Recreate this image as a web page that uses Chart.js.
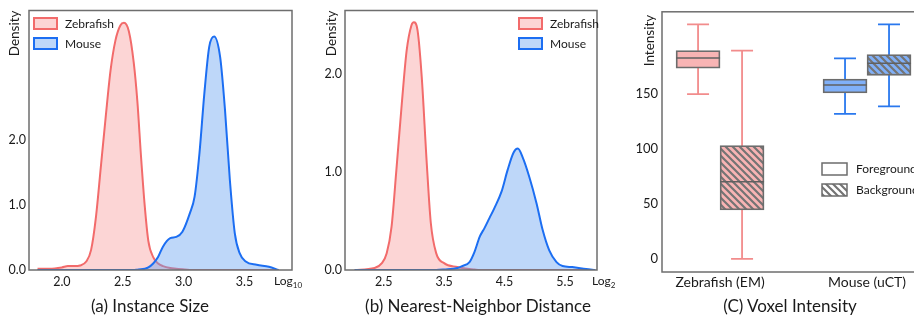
<!DOCTYPE html>
<html lang="en">
<head>
<meta charset="utf-8">
<title>Instance Size / Nearest-Neighbor Distance / Voxel Intensity</title>
<script src="https://cdn.jsdelivr.net/npm/chart.js@4.4.1/dist/chart.umd.min.js"></script>
<style>
    html, body { margin: 0; padding: 0; background: #fff; }
    body { position: relative; width: 914px; height: 316px; overflow: hidden; font-family: Lato, "Open Sans", sans-serif; color: #1a1a1a; }
    canvas { position: absolute; top: 0; }
    #chartA { left: 0; }
    #chartB { left: 300px; }
    #chartC { left: 600px; }
    .caption { position: absolute; top: 296px; font-size: 17px; line-height: 20px; white-space: nowrap; transform: translateX(-50%); }
    .logLabel { position: absolute; top: 274px; font-size: 12px; line-height: 14px; white-space: nowrap; }
    .logLabel span { font-size: 8px; position: relative; top: 3px; }
</style>
</head>
<body>
<canvas id="chartA" width="300" height="300"></canvas>
<canvas id="chartB" width="300" height="300"></canvas>
<canvas id="chartC" width="330" height="300"></canvas>
<div class="logLabel" style="left:274px">Log<span>10</span></div>
<div class="logLabel" style="left:592px">Log<span>2</span></div>
<div class="caption" style="left:150px">(a) Instance Size</div>
<div class="caption" style="left:478px">(b) Nearest-Neighbor Distance</div>
<div class="caption" style="left:790px">(C) Voxel Intensity</div>

<script>
// Datos (a) Instance Size, eje x en log10
const sizeX = [1.80, 1.90, 2.00, 2.05, 2.10, 2.15, 2.20, 2.24, 2.28, 2.32, 2.36, 2.40, 2.44, 2.48, 2.51, 2.55, 2.59, 2.62, 2.65, 2.68, 2.71, 2.75, 2.79, 2.83, 2.89, 2.94, 2.99, 3.05, 3.09, 3.13, 3.17, 3.21, 3.25, 3.30, 3.34, 3.38, 3.42, 3.46, 3.51, 3.60, 3.70, 3.78];
const sizeZebrafish = [0.02, 0.02, 0.04, 0.06, 0.06, 0.07, 0.13, 0.31, 0.82, 1.59, 2.36, 3.08, 3.54, 3.77, 3.81, 3.68, 3.2, 2.6, 1.75, 1.0, 0.45, 0.2, 0.1, 0.06, 0.03, 0.02, 0.01, 0, 0, 0, 0, 0, 0, 0, 0, 0, 0, 0, 0, 0, 0, 0];
const sizeMouse = [0, 0, 0, 0, 0, 0, 0, 0, 0, 0, 0, 0, 0, 0, 0, 0, 0, 0.005, 0.01, 0.02, 0.04, 0.1, 0.2, 0.36, 0.49, 0.51, 0.59, 0.87, 1.13, 1.8, 2.72, 3.44, 3.6, 3.28, 2.46, 1.38, 0.57, 0.26, 0.13, 0.08, 0.05, 0];
const sizeXTicks = [2.0, 2.5, 3.0, 3.5];
const sizeYTicks = [0, 1, 2];

// Datos (b) Nearest-Neighbor Distance, eje x en log2
const nnX = [2.02, 2.35, 2.47, 2.55, 2.63, 2.71, 2.80, 2.88, 2.96, 3.00, 3.06, 3.13, 3.21, 3.28, 3.37, 3.50, 3.72, 3.80, 3.92, 4.00, 4.09, 4.17, 4.25, 4.33, 4.45, 4.55, 4.65, 4.72, 4.80, 4.91, 5.03, 5.13, 5.24, 5.36, 5.46, 5.62, 5.85, 6.00];
const nnZebrafish = [0, 0.02, 0.07, 0.17, 0.44, 1.02, 1.7, 2.24, 2.5, 2.53, 2.45, 1.97, 1.12, 0.48, 0.17, 0.07, 0.03, 0.02, 0.01, 0.005, 0, 0, 0, 0, 0, 0, 0, 0, 0, 0, 0, 0, 0, 0, 0, 0, 0, 0];
const nnMouse = [0, 0, 0, 0, 0, 0, 0, 0, 0, 0, 0, 0, 0, 0, 0, 0.005, 0.02, 0.04, 0.08, 0.18, 0.34, 0.43, 0.53, 0.63, 0.8, 1.02, 1.2, 1.24, 1.15, 0.95, 0.68, 0.41, 0.2, 0.08, 0.04, 0.03, 0.01, 0];
const nnXTicks = [2.5, 3.5, 4.5, 5.5];
const nnYTicks = [0, 1, 2];

// Datos (C) Voxel Intensity (cajas)
const voxelGroups = ['Zebrafish (EM)', 'Mouse (uCT)'];
const fgMin = [149.8, 131.8];
const fgQ1 = [173.4, 150.9];
const fgMedian = [182.7, 158.1];
const fgQ3 = [189.4, 163.5];
const fgMax = [213.3, 182.4];
const bgMin = [0, 138.6];
const bgQ1 = [44.5, 166.9];
const bgMedian = [70.2, 178];
const bgQ3 = [103, 185.8];
const bgMax = [189.4, 213.3];
const intensityTicks = [0, 50, 100, 150];

// Estilos
const FONT = 'Lato, "Open Sans", sans-serif';
const TEXT_COLOR = '#1a1a1a';
const FRAME_COLOR = '#6e6e6e';
const COLORS = {
    zebLine: '#f26b6b',
    zebFill: 'rgba(247, 150, 150, 0.4)',
    mouLine: '#1c6ef2',
    mouFill: 'rgba(100, 160, 240, 0.42)',
    pinkBox: '#f8b4b4',
    blueBox: '#80b0f8',
    pinkWhisker: '#f28c8c',
    blueWhisker: '#2a78ee',
    boxBorder: '#6c6c6c',
    median: '#606060',
    hatch: '#747474'
};

Chart.defaults.font.family = FONT;
Chart.defaults.color = TEXT_COLOR;
Chart.defaults.animation = false;
Chart.defaults.plugins.legend.display = false;
Chart.defaults.plugins.tooltip.enabled = false;

// Marco gris alrededor del área de la gráfica
const framePlugin = {
    id: 'frame',
    afterDraw(chart) {
        const { ctx, chartArea: a } = chart;
        ctx.save();
        ctx.strokeStyle = FRAME_COLOR;
        ctx.lineWidth = 1.5;
        ctx.strokeRect(a.left, a.top, a.right - a.left, a.bottom - a.top);
        ctx.restore();
    }
};

// Título vertical del eje y, arriba a la izquierda
const sideTitlePlugin = {
    id: 'sideTitle',
    afterDraw(chart, args, opts) {
        const ctx = chart.ctx;
        ctx.save();
        ctx.translate(opts.x, chart.chartArea.top + (opts.dy || 0));
        ctx.rotate(-Math.PI / 2);
        ctx.font = `13.5px ${FONT}`;
        ctx.fillStyle = TEXT_COLOR;
        ctx.textAlign = 'right';
        ctx.textBaseline = 'middle';
        ctx.fillText(opts.text, 0, 0);
        ctx.restore();
    }
};

// Leyenda dibujada dentro del área
const boxLegendPlugin = {
    id: 'boxLegend',
    afterDraw(chart, args, opts) {
        const ctx = chart.ctx;
        ctx.save();
        opts.items.forEach((item, i) => {
            const top = opts.y + i * opts.gap;
            ctx.fillStyle = item.fill;
            ctx.fillRect(opts.x, top, opts.w, opts.h);
            ctx.strokeStyle = item.line;
            ctx.lineWidth = item.lineWidth || 2;
            ctx.strokeRect(opts.x, top, opts.w, opts.h);
            ctx.fillStyle = TEXT_COLOR;
            ctx.font = `${opts.fontSize}px ${FONT}`;
            ctx.textAlign = 'left';
            ctx.textBaseline = 'middle';
            ctx.fillText(item.label, opts.x + opts.w + opts.textGap, top + opts.h / 2 + 0.5);
        });
        ctx.restore();
    }
};

// Gráfica de densidad (a) y (b)
function densityChart(id, xs, zebrafish, mouse, cfg) {
    const toPoints = ys => xs.map((x, i) => ({ x: x, y: ys[i] }));
    const lineStyle = {
        borderWidth: 2,
        pointRadius: 0,
        fill: 'origin',
        cubicInterpolationMode: 'monotone'
    };
    return new Chart(document.getElementById(id), {
        type: 'line',
        data: {
            datasets: [
                { label: 'Zebrafish', data: toPoints(zebrafish), borderColor: COLORS.zebLine, backgroundColor: COLORS.zebFill, order: 2, ...lineStyle },
                { label: 'Mouse', data: toPoints(mouse), borderColor: COLORS.mouLine, backgroundColor: COLORS.mouFill, order: 1, ...lineStyle }
            ]
        },
        options: {
            responsive: false,
            layout: { padding: { top: 10, right: cfg.rightPad, left: 0, bottom: 0 } },
            scales: {
                x: {
                    type: 'linear',
                    min: cfg.xMin,
                    max: cfg.xMax,
                    grid: { display: false, drawTicks: false },
                    border: { display: false },
                    afterFit: s => { s.height = 30; },
                    afterBuildTicks: s => { s.ticks = cfg.xTicks.map(v => ({ value: v })); },
                    ticks: { callback: v => v.toFixed(1), font: { size: 12.5 }, padding: 4, autoSkip: false, maxRotation: 0 }
                },
                y: {
                    type: 'linear',
                    min: 0,
                    max: cfg.yMax,
                    grid: { display: false, drawTicks: false },
                    border: { display: false },
                    afterFit: s => { s.width = cfg.yWidth; },
                    afterBuildTicks: s => { s.ticks = cfg.yTicks.map(v => ({ value: v })); },
                    ticks: { callback: v => v.toFixed(1), font: { size: 12.5 }, padding: 3 }
                }
            },
            plugins: {
                sideTitle: { text: 'Density', x: cfg.titleX },
                boxLegend: {
                    x: cfg.legendX, y: 18, w: 23, h: 11, gap: 20, fontSize: 12, textGap: 8,
                    items: [
                        { label: 'Zebrafish', fill: COLORS.zebFill, line: COLORS.zebLine },
                        { label: 'Mouse', fill: COLORS.mouFill, line: COLORS.mouLine }
                    ]
                }
            }
        },
        plugins: [framePlugin, sideTitlePlugin, boxLegendPlugin]
    });
}

// Patrón rayado para "Background"
function hatch(base) {
    const s = 7;
    const c = document.createElement('canvas');
    c.width = s;
    c.height = s;
    const g = c.getContext('2d');
    g.fillStyle = base;
    g.fillRect(0, 0, s, s);
    g.strokeStyle = COLORS.hatch;
    g.lineWidth = 2.2;
    g.beginPath();
    g.moveTo(-1, -1); g.lineTo(s + 1, s + 1);
    g.moveTo(-1, s - 1); g.lineTo(1, s + 1);
    g.moveTo(s - 1, -1); g.lineTo(s + 1, 1);
    g.stroke();
    return g.createPattern(c, 'repeat');
}

const voxelStats = [
    { min: fgMin, median: fgMedian, max: fgMax },
    { min: bgMin, median: bgMedian, max: bgMax }
];
const whiskerColors = [COLORS.pinkWhisker, COLORS.blueWhisker];

// Bigotes detrás de las cajas y medianas encima
const boxplotPlugin = {
    id: 'boxplot',
    beforeDatasetsDraw(chart) {
        const { ctx, scales: { y } } = chart;
        ctx.save();
        ctx.lineWidth = 1.8;
        voxelStats.forEach((st, d) => {
            chart.getDatasetMeta(d).data.forEach((bar, i) => {
                const yMin = y.getPixelForValue(st.min[i]);
                const yMax = y.getPixelForValue(st.max[i]);
                const half = bar.width / 4;
                ctx.strokeStyle = whiskerColors[i];
                ctx.beginPath();
                ctx.moveTo(bar.x, yMin); ctx.lineTo(bar.x, yMax);
                ctx.moveTo(bar.x - half, yMin); ctx.lineTo(bar.x + half, yMin);
                ctx.moveTo(bar.x - half, yMax); ctx.lineTo(bar.x + half, yMax);
                ctx.stroke();
            });
        });
        ctx.restore();
    },
    afterDatasetsDraw(chart) {
        const { ctx, scales: { y } } = chart;
        ctx.save();
        ctx.lineWidth = 1.5;
        ctx.strokeStyle = COLORS.median;
        voxelStats.forEach((st, d) => {
            chart.getDatasetMeta(d).data.forEach((bar, i) => {
                const yMed = y.getPixelForValue(st.median[i]);
                ctx.beginPath();
                ctx.moveTo(bar.x - bar.width / 2, yMed);
                ctx.lineTo(bar.x + bar.width / 2, yMed);
                ctx.stroke();
            });
        });
        ctx.restore();
    }
};

function voxelChart() {
    const boxStyle = { borderColor: COLORS.boxBorder, borderWidth: 1.8, borderSkipped: false, barThickness: 44 };
    return new Chart(document.getElementById('chartC'), {
        type: 'bar',
        data: {
            datasets: [
                {
                    label: 'Foreground',
                    data: voxelGroups.map((g, i) => ({ x: i, y: [fgQ1[i], fgQ3[i]] })),
                    backgroundColor: [COLORS.pinkBox, COLORS.blueBox],
                    ...boxStyle
                },
                {
                    label: 'Background',
                    data: voxelGroups.map((g, i) => ({ x: i, y: [bgQ1[i], bgQ3[i]] })),
                    backgroundColor: [hatch(COLORS.pinkBox), hatch(COLORS.blueBox)],
                    ...boxStyle
                }
            ]
        },
        options: {
            responsive: false,
            layout: { padding: { top: 9, right: 8, left: 0, bottom: 0 } },
            scales: {
                x: {
                    type: 'linear',
                    min: -0.395,
                    max: 1.374,
                    offset: false,
                    grid: { display: false, drawTicks: false },
                    border: { display: false },
                    afterFit: s => { s.height = 28; },
                    afterBuildTicks: s => { s.ticks = voxelGroups.map((g, i) => ({ value: i })); },
                    ticks: { callback: v => voxelGroups[v], font: { size: 14 }, padding: 2, autoSkip: false, maxRotation: 0 }
                },
                y: {
                    type: 'linear',
                    min: -12,
                    max: 224.7,
                    grid: { display: false, drawTicks: false },
                    border: { display: false },
                    afterFit: s => { s.width = 62; },
                    afterBuildTicks: s => { s.ticks = intensityTicks.map(v => ({ value: v })); },
                    ticks: { font: { size: 13 }, padding: 4 }
                }
            },
            plugins: {
                sideTitle: { text: 'Intensity', x: 50, dy: 3 },
                boxLegend: {
                    x: 222, y: 163, w: 25, h: 12, gap: 21, fontSize: 12, textGap: 9,
                    items: [
                        { label: 'Foreground', fill: '#fff', line: COLORS.boxBorder, lineWidth: 1.5 },
                        { label: 'Background', fill: hatch('#fff'), line: COLORS.boxBorder, lineWidth: 1.5 }
                    ]
                }
            }
        },
        plugins: [boxplotPlugin, framePlugin, sideTitlePlugin, boxLegendPlugin]
    });
}

densityChart('chartA', sizeX, sizeZebrafish, sizeMouse, {
    xMin: 1.73, xMax: 3.89, yMax: 4.0, xTicks: sizeXTicks, yTicks: sizeYTicks,
    yWidth: 29, rightPad: 8, titleX: 15, legendX: 34
});
densityChart('chartB', nnX, nnZebrafish, nnMouse, {
    xMin: 1.86, xMax: 6.03, yMax: 2.65, xTicks: nnXTicks, yTicks: nnYTicks,
    yWidth: 45, rightPad: 3, titleX: 32, legendX: 219
});
voxelChart();
</script>
</body>
</html>
